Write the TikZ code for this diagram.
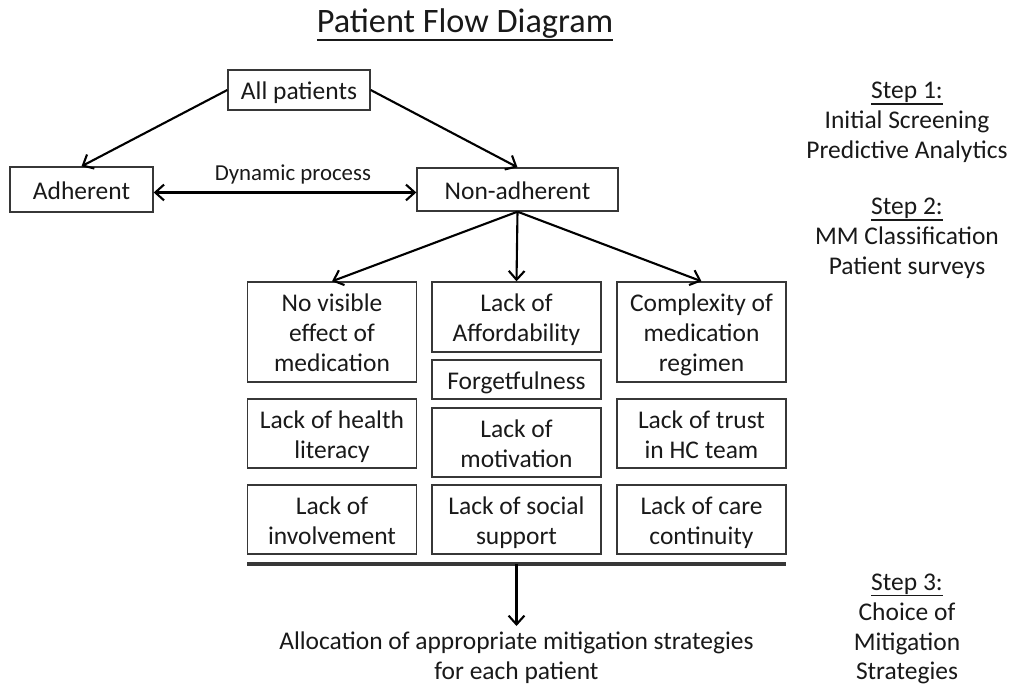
\documentclass[tikz,border=0pt]{standalone}
\usepackage{fontspec}
\setmainfont{Carlito}
\usepackage{xcolor}
\usetikzlibrary{arrows.meta, calc}
\definecolor{textgray}{RGB}{25,25,25}
\definecolor{linegray}{RGB}{55,55,55}
\newcommand{\uline}[1]{\leavevmode\vtop{\hbox{#1}\kern0.3pt\hrule height 0.9pt}}
\newcommand{\upstrut}{\rule{0pt}{16pt}}

\begin{document}
\begin{tikzpicture}[x=0.02cm, y=-0.02cm,
  every node/.style={font=\fontsize{14.5}{17}\selectfont, text=textgray},
  box/.style={draw=linegray, line width=0.8pt, minimum width=3.38cm, align=center, inner xsep=2pt, inner ysep=0pt,
    execute at end node={\rule[-5pt]{0pt}{5pt}}},
  flow/.style={-{Straight Barb[length=5pt,width=9pt]}, line width=1.2pt}]
\useasboundingbox (0,0) rectangle (1009,686);
% title
\node (title) at (465,25) {\fontsize{19.5}{23}\selectfont\uline{Patient Flow Diagram}};
% top of the flow
\node[box, minimum width=2.84cm, minimum height=0.8cm] (allp) at (299,90) {\upstrut All patients};
\node[box, minimum width=2.86cm, minimum height=0.9cm] (adh) at (81.5,189.5) {\upstrut Adherent};
\node[box, minimum width=4.02cm, minimum height=0.86cm] (nonadh) at (517.5,189.5) {\upstrut Non-adherent};
\draw[flow] (allp.west) -- (adh.north);
\draw[flow] (allp.east) -- (nonadh.north);
\draw[{Straight Barb[length=5pt,width=9pt]}-{Straight Barb[length=5pt,width=9pt]}, line width=1.2pt]
  ([yshift=-1.7pt]adh.east) -- node[above=1pt, pos=0.53, font=\fontsize{13}{15}\selectfont] (dyn) {Dynamic process} ([yshift=-1.7pt]nonadh.west);
% causes, left column
\node[box, minimum height=2cm] (noeff) at (332,332) {\upstrut No visible\\effect of\\medication};
\node[box, minimum height=1.38cm] (health) at (332,433.5) {\upstrut Lack of health\\literacy};
\node[box, minimum height=1.38cm] (involve) at (332,519.5) {\upstrut Lack of\\involvement};
% causes, middle column
\node[box, minimum height=1.4cm] (afford) at (516.5,317) {\upstrut Lack of\\Affordability};
\node[box, minimum height=0.78cm] (forget) at (516.5,379.5) {\upstrut Forgetfulness};
\node[box, minimum height=1.38cm] (motiv) at (516.5,442.5) {\upstrut Lack of\\motivation};
\node[box, minimum height=1.38cm] (social) at (516.5,519.5) {\upstrut Lack of social\\support};
% causes, right column
\node[box, minimum height=2cm] (complex) at (701.5,332) {\upstrut Complexity of\\medication\\regimen};
\node[box, minimum height=1.38cm] (trust) at (701.5,433.5) {\upstrut Lack of trust\\in HC team};
\node[box, minimum height=1.38cm] (care) at (701.5,519.5) {\upstrut Lack of care\\continuity};
\draw[flow] (nonadh.south) -- (noeff.north);
\draw[flow] (nonadh.south) -- (afford.north);
\draw[flow] (nonadh.south) -- (complex.north);
% bottom
\coordinate (barl) at (247,564);
\coordinate (barr) at (786,564);
\coordinate (barm) at ($(barl)!0.5!(barr)$);
\draw[line width=1.8pt, linegray] (barl) -- (barr);
\node[align=center, anchor=north, inner sep=3pt] (outcome) at (516.5,626)
  {Allocation of appropriate mitigation strategies\\for each patient};
\draw[flow] (barm) -- (outcome.north);
% steps on the right
\node[align=center] (step1) at (907,122) {\uline{Step 1:}\\Initial Screening\\Predictive Analytics};
\node[align=center] (step2) at (907,238) {\uline{Step 2:}\\MM Classification\\Patient surveys};
\node[align=center] (step3) at (907,629) {\uline{Step 3:}\\Choice of\\Mitigation\\Strategies};
\end{tikzpicture}
\end{document}
